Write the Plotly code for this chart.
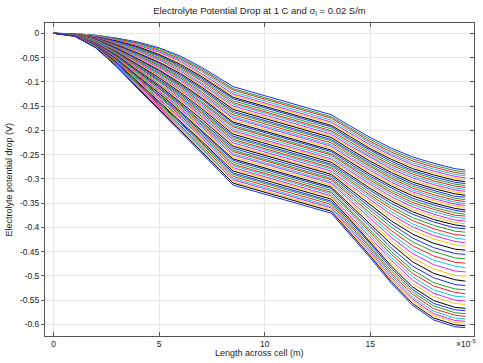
import plotly.graph_objects as go

# Positions along the cell (units of 1e-5 m, as shown by the axis multiplier)
X_STATIONS = [0, 1, 2, 3, 4, 5, 6, 7, 8.5, 13.15, 14, 15, 16, 17, 18, 19, 19.5]

# Electrolyte potential drop (mV, magnitude) for each of the 57 time curves at each station
DROP_AT_0 = 0
DROP_X1 = [1,1,1,1,1,1,2,2,2,2, 2,2,2,2,2,2,2,3,3,3, 3,3,3,3,3,3,3,3,4,4,
           4,4,4,4,4,4,4,4,4,4, 5,5,5,5,5,5,5,5,5,5, 5,6,6,6,6,6,6]
DROP_X2 = [4,4,5,5,6,6,7,7,8,8, 9,9,10,10,10,11,11,12,12,13, 13,14,14,15,15,16,16,17,17,17,
           18,18,19,19,20,20,21,21,22,22, 23,23,23,24,24,25,25,26,26,27, 27,28,28,29,29,30,30]
DROP_X3 = [10,11,12,13,14,15,16,17,19,20, 21,22,23,24,25,26,27,28,29,30, 31,32,34,35,36,37,38,39,40,41,
           42,43,44,45,46,47,49,50,51,52, 53,54,55,56,57,58,59,60,61,62, 64,65,66,67,68,69,70]
DROP_X4 = [18,20,21,23,25,27,28,30,32,34, 35,37,39,41,42,44,46,47,49,51, 53,54,56,58,60,61,63,65,66,68,
           70,72,73,75,77,79,80,82,84,86, 87,89,91,92,94,96,98,99,101,103, 105,106,108,110,112,113,115]
DROP_X5 = [30,32,35,37,39,42,44,46,48,51, 53,55,58,60,62,65,67,69,71,74, 76,78,81,83,85,88,90,92,95,97,
           99,101,104,106,108,111,113,115,118,120, 122,124,127,129,131,134,136,138,141,143, 145,148,150,152,154,157,159]
DROP_X6 = [47,50,53,55,58,61,64,67,69,72, 75,78,80,83,86,89,92,94,97,100, 103,106,108,111,114,117,119,122,125,128,
           131,133,136,139,142,145,147,150,153,156, 158,161,164,167,170,172,175,178,181,184, 186,189,192,195,197,200,203]
DROP_X7 = [70,73,76,79,83,86,89,92,95,98, 102,105,108,111,114,117,121,124,127,130, 133,136,140,143,146,149,152,155,159,162,
           165,168,171,174,177,181,184,187,190,193, 196,200,203,206,209,212,215,219,222,225, 228,231,234,238,241,244,247]
DROP_X8_5 = [110,114,117,121,125,128,132,135,139,143, 146,150,154,157,161,164,168,172,175,179, 183,186,190,193,197,201,204,208,212,215,
             219,222,226,230,233,237,241,244,248,251, 255,259,262,266,270,273,277,280,284,288, 291,295,299,302,306,309,313]
DROP_X13_15 = [168,172,175,179,183,186,190,193,197,201, 204,208,212,215,219,222,226,230,233,237, 241,244,248,251,255,259,262,266,270,273,
               277,280,284,288,291,295,299,302,306,309, 313,317,320,324,328,331,335,338,342,346, 349,353,357,360,364,367,371]
DROP_X14 = [190,194,197,201,205,208,212,216,219,223, 227,231,234,238,242,245,249,253,257,260, 264,268,272,275,279,283,287,291,295,299,
            303,307,312,316,320,325,329,334,338,343, 347,352,356,361,365,369,374,378,382,386, 390,394,398,402,405,409,413]
DROP_X15 = [215,219,223,226,230,234,238,241,245,249, 253,256,260,264,268,272,275,279,283,287, 291,295,299,303,307,311,315,320,324,329,
            334,338,343,348,354,359,365,371,376,382, 387,393,399,405,410,415,420,425,430,434, 439,443,447,451,455,459,463]
DROP_X16 = [237,241,245,249,252,256,260,264,268,272, 276,280,283,287,291,295,299,303,307,311, 315,319,324,328,332,337,342,346,351,357,
            362,368,374,380,387,393,400,407,414,421, 428,435,443,450,456,462,468,474,480,485, 490,495,499,504,508,512,516]
DROP_X17 = [255,259,263,267,271,275,279,283,286,290, 294,298,303,307,311,315,319,323,327,331, 335,340,344,349,353,358,363,368,373,380,
            386,393,399,406,414,422,430,438,446,454, 463,471,480,488,495,502,509,516,523,528, 533,538,544,548,552,557,561]
DROP_X18 = [268,272,276,280,284,288,292,296,300,304, 308,312,316,320,324,328,333,337,341,345, 350,354,359,363,368,373,378,384,389,396,
            403,410,417,424,433,442,450,459,468,477, 486,495,504,514,521,529,536,543,551,557, 562,568,573,578,582,587,591]
DROP_X19 = [279,283,287,291,295,299,303,307,311,315, 319,323,327,331,336,340,344,348,352,356, 361,365,370,375,379,385,390,395,401,408,
            415,422,429,436,445,454,463,472,480,490, 499,508,518,527,534,542,550,557,565,570, 576,581,587,592,596,601,605]
DROP_X19_5 = [282,286,290,294,298,302,306,310,314,318, 322,326,330,334,338,343,347,351,355,359, 364,368,373,377,382,387,393,398,403,410,
              417,425,432,439,447,456,465,474,483,492, 501,511,520,529,537,544,552,559,567,572, 578,584,589,594,598,603,607]

COLUMNS = [DROP_X1, DROP_X2, DROP_X3, DROP_X4, DROP_X5, DROP_X6, DROP_X7, DROP_X8_5,
           DROP_X13_15, DROP_X14, DROP_X15, DROP_X16, DROP_X17, DROP_X18, DROP_X19, DROP_X19_5]

# COMSOL-like color cycle
COLORS = ["#1a2cff", "#22a022", "#ee2020", "#10c8d8", "#e020e0", "#ffbf10", "#000000"]

Y_TICKS = [0, -0.05, -0.1, -0.15, -0.2, -0.25, -0.3, -0.35, -0.4, -0.45, -0.5, -0.55, -0.6]
Y_TICK_TEXT = ["0", "-0.05", "-0.1", "-0.15", "-0.2", "-0.25", "-0.3", "-0.35", "-0.4", "-0.45", "-0.5", "-0.55", "-0.6"]
X_TICKS = [0, 5, 10, 15]
X_TICK_TEXT = ["0", "5", "10", "15"]

TITLE = "Electrolyte Potential Drop at 1 C and σ<sub>l</sub> = 0.02 S/m"
X_TITLE = "Length across cell (m)"
Y_TITLE = "Electrolyte potential drop (V)"
X_MULTIPLIER = "×10<sup>-5</sup>"

FONT = "Liberation Sans, Arial, sans-serif"
W, H = 483, 363
ML, MR, MT, MB = 45, 9, 23, 27
PW, PH = W - ML - MR, H - MT - MB

fig = go.Figure()
n_curves = len(DROP_X1)
for k in range(n_curves):
    y = [-DROP_AT_0 / 1000.0] + [-col[k] / 1000.0 for col in COLUMNS]
    fig.add_trace(go.Scatter(
        x=X_STATIONS, y=y, mode="lines",
        line=dict(color=COLORS[k % len(COLORS)], width=1),
        showlegend=False, hoverinfo="skip",
    ))

# invisible trace to host a right-side axis with inward ticks
fig.add_trace(go.Scatter(x=[None], y=[None], yaxis="y2", showlegend=False, hoverinfo="skip"))

y_range = [-0.6241, 0.0212]
fig.update_layout(
    width=W, height=H,
    margin=dict(l=ML, r=MR, t=MT, b=MB, autoexpand=False),
    paper_bgcolor="white", plot_bgcolor="white",
    font=dict(family=FONT, size=8, color="#222"),
    title=dict(text=TITLE, x=0.5, xref="paper", xanchor="center",
               y=1 - 11 / H, yref="container", yanchor="middle",
               font=dict(family=FONT, size=9.5, color="#222")),
    xaxis=dict(range=[-0.41, 19.91], tickvals=X_TICKS, ticktext=X_TICK_TEXT,
               ticks="inside", ticklen=4, tickcolor="#555", tickwidth=1,
               showline=True, linecolor="#555", linewidth=1, mirror="ticks",
               showgrid=True, gridcolor="#e6e6e6", gridwidth=1, zeroline=False,
               automargin=False,
               tickfont=dict(family=FONT, size=8.5, color="#222")),
    yaxis=dict(range=y_range, tickvals=Y_TICKS, ticktext=Y_TICK_TEXT,
               ticks="outside", ticklen=3, tickcolor="#555", tickwidth=1,
               showline=True, linecolor="#555", linewidth=1, mirror=True,
               showgrid=True, gridcolor="#e6e6e6", gridwidth=1, zeroline=False,
               automargin=False,
               tickfont=dict(family=FONT, size=8.5, color="#222")),
    yaxis2=dict(range=y_range, overlaying="y", side="right", tickvals=Y_TICKS,
                ticks="inside", ticklen=4, tickcolor="#555", showticklabels=False,
                showgrid=False, zeroline=False, showline=False, automargin=False),
    annotations=[
        dict(text=X_MULTIPLIER, xref="paper", yref="paper",
             x=(W - MR + 4 - ML) / PW, y=-(343 - (H - MB)) / PH,
             xanchor="right", yanchor="middle", showarrow=False,
             font=dict(family=FONT, size=8.5, color="#222")),
        dict(text=X_TITLE, xref="paper", yref="paper",
             x=0.5, y=-(353 - (H - MB)) / PH, xanchor="center", yanchor="middle",
             showarrow=False, font=dict(family=FONT, size=9, color="#222")),
        dict(text=Y_TITLE, xref="paper", yref="paper", textangle=-90,
             x=-(ML - 8) / PW, y=0.5, xanchor="center", yanchor="middle",
             showarrow=False, font=dict(family=FONT, size=9, color="#222")),
    ],
)

fig.write_html("out.html",
               config={"displayModeBar": False, "staticPlot": True},
               post_script="document.body.style.margin='0';document.body.style.padding='0';document.body.style.overflow='hidden';")
